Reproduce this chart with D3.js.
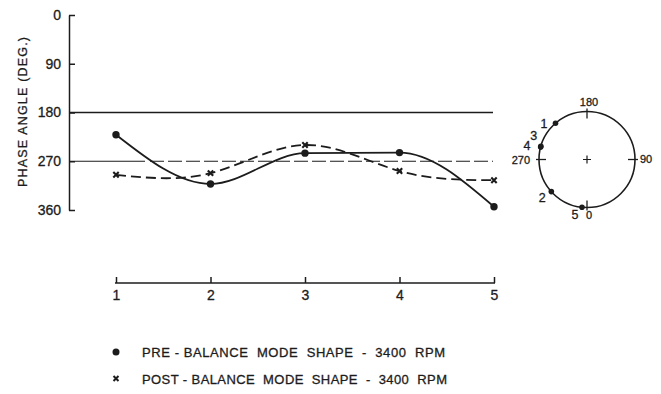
<!DOCTYPE html>
<html><head><meta charset="utf-8">
<script src="https://cdn.jsdelivr.net/npm/d3@7"></script>
<style>
body{margin:0;background:#fff}
svg{display:block}
text{font-family:"Liberation Sans",Arial,sans-serif;fill:#1c1c1c;stroke:#1c1c1c;stroke-width:0.3px}
</style>
</head><body>
<svg id="c" width="661" height="394"></svg>
<script>
// ---- data ----
const stations = [1, 2, 3, 4, 5];
const preBalance = [221, 312, 255, 254, 354];   // phase angle (deg), pre-balance
const postBalance = [295, 292, 240, 288, 305];  // phase angle (deg), post-balance
const yTicks = [0, 90, 180, 270, 360];
const refLines = [180, 270];
const polarTicks = [0, 90, 180, 270];
const yTitle = "PHASE ANGLE (DEG.)";
const legendLabels = ["PRE - BALANCE  MODE  SHAPE  -  3400  RPM", "POST - BALANCE  MODE  SHAPE  -  3400  RPM"];

// ---- layout ----
const svg = d3.select("#c");
const ink = "#1c1c1c";
const font = '"Liberation Sans",Arial,sans-serif';
const axisX = 69, plotRight = 493;
const x = d3.scaleLinear().domain([1, 5]).range([116, 494]);
const y = d3.scaleLinear().domain([0, 360]).range([15, 210]);

// y axis
const yAxis = svg.append("g").attr("transform", `translate(${axisX},0)`)
  .call(d3.axisLeft(y).tickValues(yTicks).tickSizeInner(-6).tickSizeOuter(0).tickPadding(8));
yAxis.selectAll("path,line").attr("stroke", ink).attr("stroke-width", 1.5);
yAxis.selectAll("text").attr("font-size", 14).attr("font-family", font).attr("fill", ink);

// y title
svg.append("text")
  .attr("transform", `translate(26.5,112) rotate(-90)`)
  .attr("text-anchor", "middle")
  .attr("font-size", 12.5)
  .attr("textLength", 150).attr("lengthAdjust", "spacing")
  .text(yTitle);

// reference lines
svg.append("line").attr("x1", axisX).attr("x2", plotRight)
  .attr("y1", y(refLines[0])).attr("y2", y(refLines[0]))
  .attr("stroke", ink).attr("stroke-width", 1.4);
const dashPat = [76, 5].concat(d3.range(30).flatMap(() => [14, 4]));
svg.append("line").attr("x1", axisX).attr("x2", plotRight)
  .attr("y1", y(refLines[1])).attr("y2", y(refLines[1]))
  .attr("stroke", ink).attr("stroke-width", 1.2)
  .attr("stroke-dasharray", dashPat.join(","));

// curves
const lineMono = d3.line().x((d, i) => x(stations[i])).y(d => y(d)).curve(d3.curveMonotoneX);
const lineNat = d3.line().x((d, i) => x(stations[i])).y(d => y(d)).curve(d3.curveNatural);
svg.append("path").attr("d", lineMono(preBalance)).attr("fill", "none")
  .attr("stroke", ink).attr("stroke-width", 1.8);
svg.append("path").attr("d", lineNat(postBalance)).attr("fill", "none")
  .attr("stroke", ink).attr("stroke-width", 1.8).attr("stroke-dasharray", "10,5");

// markers
svg.selectAll(".dot").data(preBalance).join("circle")
  .attr("cx", (d, i) => x(stations[i])).attr("cy", d => y(d)).attr("r", 3.7).attr("fill", ink);
const xMark = (s) => `M${-s},${-s}L${s},${s}M${-s},${s}L${s},${-s}`;
svg.selectAll(".xm").data(postBalance).join("path")
  .attr("transform", (d, i) => `translate(${x(stations[i])},${y(d)})`)
  .attr("d", xMark(2.7)).attr("stroke", ink).attr("stroke-width", 2.1).attr("fill", "none");

// bottom station axis
const xAxis = svg.append("g").attr("transform", "translate(0,283)")
  .call(d3.axisBottom(x).tickValues(stations).tickSizeInner(-6).tickSizeOuter(0).tickPadding(7).tickFormat(d3.format("d")));
xAxis.select("path").attr("d", `M${x(1) - 1},0H${x(5) + 1}`);
xAxis.selectAll("path,line").attr("stroke", ink).attr("stroke-width", 1.5);
xAxis.selectAll("text").attr("font-size", 14).attr("font-family", font).attr("fill", ink);

// polar inset
const cx = 587, cy = 159.5, R = 48;
const ang = d3.scaleLinear().domain([0, 360]).range([0, 2 * Math.PI]);
const px = (deg, r) => cx + r * Math.sin(ang(deg));
const py = (deg, r) => cy + r * Math.cos(ang(deg));
svg.append("circle").attr("cx", cx).attr("cy", cy).attr("r", R)
  .attr("fill", "none").attr("stroke", ink).attr("stroke-width", 1.6);
svg.selectAll(".pt").data(polarTicks).join("line")
  .attr("x1", d => px(d, R + 3)).attr("y1", d => py(d, R + 3))
  .attr("x2", d => px(d, R - 7)).attr("y2", d => py(d, R - 7))
  .attr("stroke", ink).attr("stroke-width", 1.3);
svg.append("path").attr("d", `M${cx - 4},${cy}H${cx + 4}M${cx},${cy - 4}V${cy + 4}`)
  .attr("stroke", ink).attr("stroke-width", 1.2);
svg.selectAll(".ptl").data(polarTicks).join("text")
  .attr("x", d => px(d, R + 9) + (d === 90 ? -4 : d === 270 ? 0 : 2))
  .attr("y", d => py(d, R + 9) + (d === 0 ? -1 : d === 270 ? 1 : 0))
  .attr("dy", "0.35em")
  .attr("text-anchor", d => d === 90 ? "start" : d === 270 ? "end" : "middle")
  .attr("font-size", 11)
  .text(d => d);
svg.selectAll(".pd").data(preBalance).join("circle")
  .attr("cx", d => px(d, R)).attr("cy", d => py(d, R)).attr("r", 2.8).attr("fill", ink);
const labelNudge = [9, -1.4, -9.4, 3.3, -6.4];
const labelRadius = [56, 59, 58.5, 61.5, 56];
svg.selectAll(".pl").data(preBalance).join("text")
  .attr("x", (d, i) => px(d + labelNudge[i], labelRadius[i]))
  .attr("y", (d, i) => py(d + labelNudge[i], labelRadius[i]))
  .attr("dy", "0.36em").attr("text-anchor", "middle").attr("font-size", 12.5)
  .text((d, i) => stations[i]);

// legend
const lg = svg.append("g");
lg.append("circle").attr("cx", 116).attr("cy", 352).attr("r", 3.5).attr("fill", ink);
lg.append("path").attr("transform", "translate(116,378.5)").attr("d", xMark(2.5))
  .attr("stroke", ink).attr("stroke-width", 2);
lg.selectAll("text").data(legendLabels).join("text")
  .attr("x", 142).attr("y", (d, i) => 357 + i * 26.5)
  .attr("font-size", 13)
  .attr("textLength", (d, i) => i === 0 ? 303 : 305).attr("lengthAdjust", "spacing")
  .style("white-space", "pre")
  .text(d => d);
</script>
</body></html>
